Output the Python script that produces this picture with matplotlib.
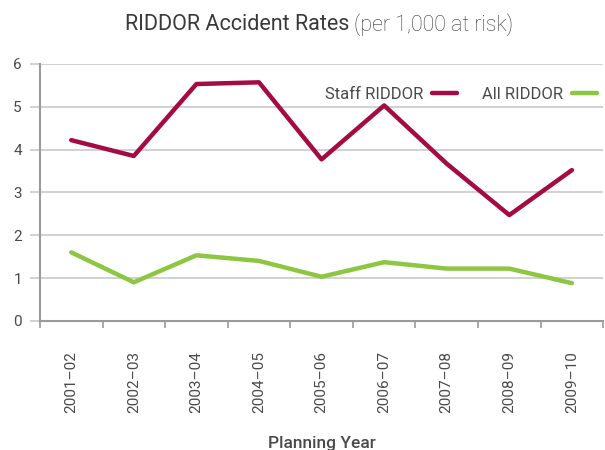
import matplotlib
matplotlib.use("Agg")
import numpy as np
from matplotlib import pyplot as plt

years = ["2001–02", "2002–03", "2003–04", "2004–05", "2005–06",
         "2006–07", "2007–08", "2008–09", "2009–10"]
staff_riddor = [4.22, 3.85, 5.53, 5.57, 3.77, 5.03, 3.67, 2.47, 3.52]
all_riddor = [1.60, 0.90, 1.53, 1.40, 1.03, 1.37, 1.22, 1.22, 0.88]

plt.rcParams['font.family'] = ['Roboto', 'DejaVu Sans']
text_col = '#4a4a4a'
spine_col = '#9a9a9c'
grid_col = '#c9c9c9'

fig = plt.figure(figsize=(6.05, 4.5), dpi=100)
ax = fig.add_axes([0.066, 0.287, 0.931, 0.571])

x = np.arange(len(years))
ax.plot(x, staff_riddor, color='#a50a43', lw=3.2, solid_capstyle='round',
        label='Staff RIDDOR')
ax.plot(x, all_riddor, color='#8dc641', lw=3.2, solid_capstyle='round',
        label='All RIDDOR')

ax.set_xlim(-0.5, len(years) - 0.5)
ax.set_ylim(0, 6)
ax.set_yticks(range(7))
ax.yaxis.grid(True, color=grid_col, lw=1.2)
ax.set_axisbelow(True)

# category ticks sit between the years, labels in the middle
ax.set_xticks(np.arange(len(years) + 1) - 0.5)
ax.set_xticklabels([])
ax.set_xticks(x, minor=True)
ax.set_xticklabels(years, minor=True, rotation=90, fontsize=11, color=text_col)
ax.tick_params(axis='x', which='minor', length=0, pad=22)
ax.tick_params(axis='x', which='major', length=5, width=1.2, color=spine_col)
ax.tick_params(axis='y', length=7, width=1.2, color=grid_col,
               labelsize=11, labelcolor=text_col, pad=6)

for side in ['top', 'right']:
    ax.spines[side].set_visible(False)
for side in ['left', 'bottom']:
    ax.spines[side].set_color(spine_col)
    ax.spines[side].set_linewidth(1.5)

ax.set_xlabel('Planning Year', fontsize=12.5, color=text_col,
              fontweight='medium', labelpad=16)

ax.legend(loc='upper right', bbox_to_anchor=(1.015, 0.97), ncol=2,
          frameon=False, markerfirst=False, fontsize=12,
          handlelength=1.5, columnspacing=1.5, handletextpad=0.5,
          labelcolor=text_col)

# title in two weights
t1 = fig.text(0.207, 0.945, 'RIDDOR Accident Rates', fontsize=15.5,
              fontweight='normal', color='#3a3a3a', va='center')
fig.canvas.draw()
bb = t1.get_window_extent()
x2 = fig.transFigure.inverted().transform((bb.x1 + 4, 0))[0]
fig.text(x2, 0.945, '(per 1,000 at risk)', fontsize=15.5, fontweight='light',
         color='#3a3a3a', va='center')

fig.savefig('out.png', dpi=100)
